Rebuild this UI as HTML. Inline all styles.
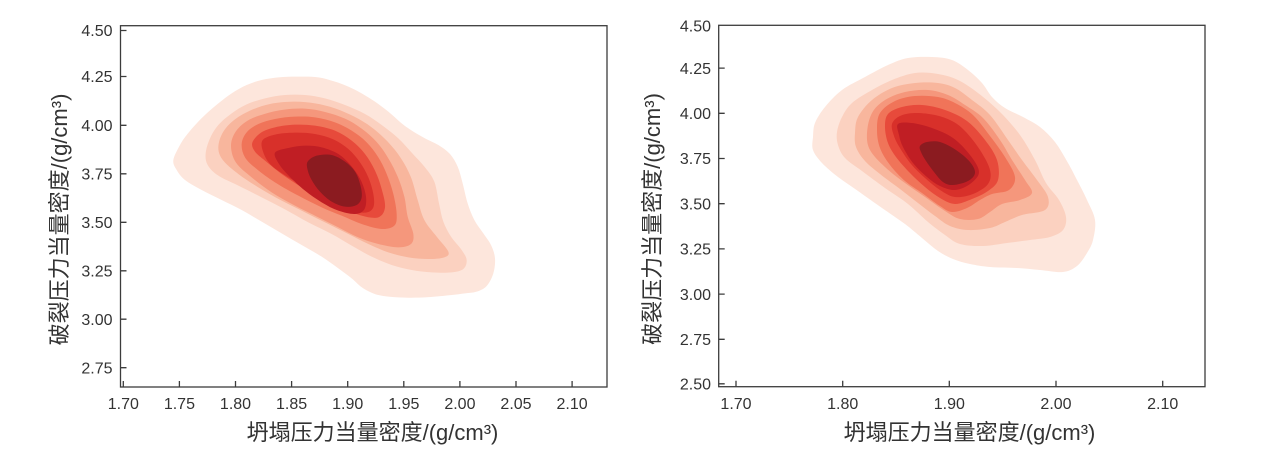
<!DOCTYPE html>
<html>
<head>
<meta charset="utf-8">
<style>
html,body{margin:0;padding:0;background:#fff;}
svg{display:block;}
text{font-family:"Liberation Sans","Noto Sans CJK SC",sans-serif;fill:#333;}
.t{font-size:16px;}
.lab{font-size:22px;}
</style>
</head>
<body>
<svg width="1268" height="450" viewBox="0 0 1268 450" xmlns="http://www.w3.org/2000/svg">
<rect width="1268" height="450" fill="#fff"/>

<!-- LEFT contours (zoom coords) -->
<g transform="translate(165,70) scale(0.333333)">
<polygon class="s" fill="#fde6dc" points="25,270 45,225 65,195 95,160 125,130 160,100 200,70 245,45 290,30 340,22 400,20 460,22 510,35 550,50 590,70 630,95 670,125 710,160 745,185 780,205 820,225 855,252 878,290 893,340 908,400 928,450 955,490 978,525 990,565 985,610 965,648 935,665 900,670 860,675 810,680 760,683 700,682 640,675 595,655 560,625 520,595 470,560 410,525 350,490 290,455 230,420 170,390 110,360 60,330 35,300"/>
<polygon class="s" fill="#fbd1c0" points="122,250 135,205 160,165 200,130 245,103 300,85 360,75 420,75 480,85 540,105 600,132 650,165 700,205 742,250 780,292 808,335 822,400 835,455 858,500 890,540 905,570 895,597 860,607 800,607 740,600 680,585 620,560 560,527 500,492 430,457 360,418 290,382 220,347 160,317 128,285"/>
<polygon class="s" fill="#f8b69d" points="160,235 172,190 205,152 255,122 315,102 385,95 450,100 510,115 568,140 620,172 668,215 708,265 738,322 758,390 778,450 815,500 850,545 838,562 790,567 730,562 670,547 610,522 550,492 490,462 420,427 350,392 280,352 220,312 175,272"/>
<polygon class="s" fill="#f5977c" points="198,228 212,185 248,152 298,132 358,119 420,116 480,126 540,146 590,176 635,216 670,265 698,320 718,380 728,440 745,492 738,522 700,532 640,522 580,502 520,472 460,442 390,407 320,367 260,322 213,278"/>
<polygon class="s" fill="#f07459" points="230,222 245,187 280,162 330,147 390,140 450,142 510,157 560,182 605,217 640,262 665,312 685,372 695,432 688,467 650,477 590,462 530,437 470,412 400,377 330,337 275,297 240,262"/>
<polygon class="s" fill="#e74a3b" points="262,218 288,188 330,172 390,164 450,167 510,182 560,212 600,252 630,302 650,357 660,412 640,442 590,437 530,412 470,387 410,352 350,312 300,272 270,245"/>
<polygon class="s" fill="#d8302a" points="292,212 330,194 390,188 450,192 505,208 550,237 585,277 610,322 625,372 625,412 600,428 550,418 490,392 430,357 370,322 320,287 296,250"/>
<polygon class="s" fill="#c01e24" points="330,248 370,234 420,227 470,232 520,252 558,287 588,332 603,380 598,418 570,432 520,422 470,397 420,362 372,318 342,282"/>
<polygon class="s" fill="#8b1b20" points="428,275 455,257 500,255 540,275 570,305 586,345 590,382 575,405 540,410 500,395 465,365 440,330 428,300"/>
</g>

<!-- RIGHT contours -->
<g>
<polygon class="s" fill="#fde6dc" points="813,137 815,123 825,107 842,90 865,77 888,65 908,58 932,57 952,60 968,70 982,83 992,97 1005,108 1023,117 1040,127 1055,142 1068,163 1077,180 1087,200 1095,220 1093,240 1087,253 1077,266 1063,272 1040,270 1017,268 990,267 970,264 953,259 938,251 922,238 905,224 882,208 858,191 838,177 822,163 813,150"/>
<polygon class="s" fill="#fbd1c0" points="837,132 842,117 852,103 872,90 892,80 915,73 938,74 958,80 978,93 1000,112 1020,135 1035,160 1046,183 1059,200 1066,217 1063,230 1050,237 1030,240 1007,243 983,246 960,244 945,235 928,222 908,204 885,188 862,171 845,158 838,145"/>
<polygon class="s" fill="#f8b69d" points="855,133 858,117 872,100 892,88 915,83 938,83 955,88 972,100 990,115 1008,140 1022,160 1037,180 1048,197 1045,210 1022,215 1005,222 990,228 968,230 950,226 935,216 918,203 900,189 880,174 865,161 856,147"/>
<polygon class="s" fill="#f5977c" points="867,133 872,113 885,100 905,92 928,90 948,95 965,105 983,118 1000,140 1012,160 1025,180 1032,193 1020,200 1002,204 990,212 978,219 960,219 945,211 925,197 905,183 885,167 870,150"/>
<polygon class="s" fill="#f07459" points="877,130 880,113 895,101 915,96 938,97 955,103 973,115 990,136 1005,157 1015,177 1009,190 992,194 980,200 967,208 952,212 940,206 922,193 905,181 890,165 880,148"/>
<polygon class="s" fill="#e74a3b" points="885,127 888,114 902,107 922,105 945,110 967,121 985,140 997,160 998,180 988,191 972,199 955,204 940,198 925,187 910,173 896,157 888,143"/>
<polygon class="s" fill="#d8302a" points="892,124 900,116 915,113 935,115 952,121 965,131 980,150 990,170 988,184 973,194 955,197 940,190 925,178 911,164 900,148 894,136"/>
<polygon class="s" fill="#c01e24" points="898,124 912,123 932,128 953,138 970,155 979,172 970,184 955,190 940,186 927,177 913,163 903,147 899,135"/>
<polygon class="s" fill="#8b1b20" points="920,146 927,142 940,142 956,150 970,162 975,173 968,181 953,185 943,182 934,172 926,161 921,152"/>
</g>

<!-- LEFT axes -->
<g stroke="#3c3c3c" stroke-width="1.3" fill="none">
<rect x="120.5" y="25.7" width="486.5" height="361.3"/>
<path d="M120.5,30.5h6 M120.5,76.5h6 M120.5,125.3h6 M120.5,173.8h6 M120.5,222.3h6 M120.5,270.8h6 M120.5,319.2h6 M120.5,367.7h6"/>
<path d="M123.3,387v-6 M179.4,387v-6 M235.5,387v-6 M291.6,387v-6 M347.7,387v-6 M403.8,387v-6 M459.9,387v-6 M516,387v-6 M572.1,387v-6"/>
</g>
<g class="t" text-anchor="end">
<text x="112.5" y="36.2">4.50</text>
<text x="112.5" y="82.2">4.25</text>
<text x="112.5" y="131">4.00</text>
<text x="112.5" y="179.5">3.75</text>
<text x="112.5" y="228">3.50</text>
<text x="112.5" y="276.5">3.25</text>
<text x="112.5" y="324.9">3.00</text>
<text x="112.5" y="373.4">2.75</text>
</g>
<g class="t" text-anchor="middle">
<text x="123.3" y="409">1.70</text>
<text x="179.4" y="409">1.75</text>
<text x="235.5" y="409">1.80</text>
<text x="291.6" y="409">1.85</text>
<text x="347.7" y="409">1.90</text>
<text x="403.8" y="409">1.95</text>
<text x="459.9" y="409">2.00</text>
<text x="516" y="409">2.05</text>
<text x="572.1" y="409">2.10</text>
</g>
<text class="lab" x="372.5" y="440" text-anchor="middle">坍塌压力当量密度/(g/cm³)</text>
<text class="lab" transform="translate(67,219.5) rotate(-90)" text-anchor="middle">破裂压力当量密度/(g/cm³)</text>

<!-- RIGHT axes -->
<g stroke="#3c3c3c" stroke-width="1.3" fill="none">
<rect x="718.7" y="25.3" width="486.3" height="361.4"/>
<path d="M718.7,68.1h6 M718.7,113.3h6 M718.7,158.5h6 M718.7,203.7h6 M718.7,248.9h6 M718.7,294.1h6 M718.7,339.3h6 M718.7,383.8h6"/>
<path d="M736,386.7v-6 M842.7,386.7v-6 M949.3,386.7v-6 M1056,386.7v-6 M1162.7,386.7v-6"/>
</g>
<g class="t" text-anchor="end">
<text x="711" y="31.5">4.50</text>
<text x="711" y="73.8">4.25</text>
<text x="711" y="119">4.00</text>
<text x="711" y="164.2">3.75</text>
<text x="711" y="209.4">3.50</text>
<text x="711" y="254.6">3.25</text>
<text x="711" y="299.8">3.00</text>
<text x="711" y="345">2.75</text>
<text x="711" y="389.5">2.50</text>
</g>
<g class="t" text-anchor="middle">
<text x="736" y="409">1.70</text>
<text x="842.7" y="409">1.80</text>
<text x="949.3" y="409">1.90</text>
<text x="1056" y="409">2.00</text>
<text x="1162.7" y="409">2.10</text>
</g>
<text class="lab" x="969.5" y="440" text-anchor="middle">坍塌压力当量密度/(g/cm³)</text>
<text class="lab" transform="translate(660,219) rotate(-90)" text-anchor="middle">破裂压力当量密度/(g/cm³)</text>
</svg>
<script>
(function(){
var NS="http://www.w3.org/2000/svg";
var polys=document.querySelectorAll('polygon.s');
for(var k=0;k<polys.length;k++){
  var p=polys[k];
  var pts=p.getAttribute('points').trim().split(/\s+/).map(function(s){return s.split(',').map(Number);});
  var n=pts.length;
  var d="M"+pts[0][0]+","+pts[0][1];
  for(var i=0;i<n;i++){
    var p0=pts[(i-1+n)%n],p1=pts[i],p2=pts[(i+1)%n],p3=pts[(i+2)%n];
    var c1x=p1[0]+(p2[0]-p0[0])/6,c1y=p1[1]+(p2[1]-p0[1])/6;
    var c2x=p2[0]-(p3[0]-p1[0])/6,c2y=p2[1]-(p3[1]-p1[1])/6;
    d+="C"+c1x.toFixed(2)+","+c1y.toFixed(2)+" "+c2x.toFixed(2)+","+c2y.toFixed(2)+" "+p2[0]+","+p2[1];
  }
  d+="Z";
  var path=document.createElementNS(NS,"path");
  path.setAttribute("d",d);
  path.setAttribute("fill",p.getAttribute("fill"));
  p.parentNode.replaceChild(path,p);
}
})();
</script>
</body>
</html>
